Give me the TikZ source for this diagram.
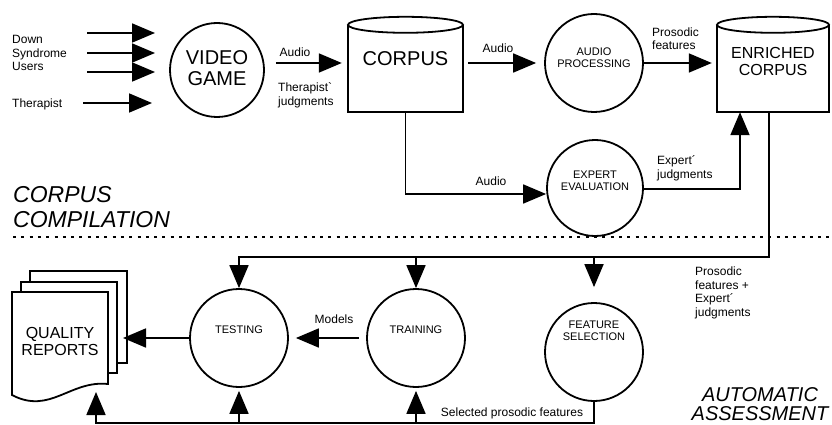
\documentclass[tikz,border=0pt]{standalone}
\usepackage{fontspec}
\setmainfont{Liberation Sans}
\usetikzlibrary{arrows.meta}

\tikzset{
  wire/.style={line width=1.8pt},
  arr/.style={wire, -{Triangle[length=23pt,width=19pt]}},
  proc/.style={circle, draw, line width=1.8pt, minimum size=98pt, inner sep=0pt},
  store/.style={rectangle, inner sep=0pt},
  ctext/.style={font=\fontsize{11}{12}\selectfont, align=center, inner sep=0pt},
  btext/.style={font=\fontsize{16}{17}\selectfont, align=center, inner sep=0pt},
  vtext/.style={font=\fontsize{20}{21}\selectfont, align=center, inner sep=0pt},
  lab/.style={font=\fontsize{12}{13.5}\selectfont, align=left, inner sep=0pt},
  phase/.style={font=\fontsize{23}{25}\selectfont\itshape, inner sep=0pt},
}

\begin{document}
\begin{tikzpicture}[x=1pt, y=-1pt]
  \useasboundingbox (0,0) rectangle (832,425);

  % corpus compilation
  \node[lab, anchor=west] (users) at (12,53) {Down\\Syndrome\\Users};
  \node[lab, anchor=west] (therapist) at (12,104) {Therapist};
  \foreach \y/\n in {33/u1, 53/u2, 72/u3} {
    \coordinate (\n-a) at (87,\y);
    \coordinate (\n-b) at (155,\y);
    \draw[arr] (\n-a) -- (\n-b);
  }
  \coordinate (t-a) at (83,103);
  \coordinate (t-b) at (152,103);
  \draw[arr] (t-a) -- (t-b);

  \node[proc, minimum size=94pt, label={[vtext, yshift=2pt]center:VIDEO\\GAME}] (video) at (217,70) {};
  \node[store, minimum width=115pt, minimum height=87pt, label={[vtext, yshift=9.5pt]center:CORPUS}] (corpus) at (405.5,68.5) {};
  \node[proc, label={[ctext, yshift=5.5pt]center:AUDIO\\PROCESSING}] (audio) at (594,63) {};
  \node[store, minimum width=112pt, minimum height=87pt, label={[btext, yshift=7pt]center:ENRICHED\\CORPUS}] (enriched) at (773,68.5) {};
  \node[proc, minimum size=96pt, label={[ctext, yshift=7pt]center:EXPERT\\EVALUATION}] (expert) at (595,188) {};

  \foreach \s/\r in {corpus/57.5, enriched/56} {
    \draw[wire] (\s.north west) -- (\s.south west) -- (\s.south east) -- (\s.north east);
    \draw[wire] (\s.north) ellipse [x radius=\r pt, y radius=8pt];
  }

  \draw[arr, shorten <=11pt, shorten >=6pt] (video.east |- audio) -- (corpus.west |- audio);
  \draw[arr, shorten <=5pt, shorten >=8pt] (corpus.east |- audio) -- (audio.west);
  \draw[arr, shorten >=5pt] (audio.east) -- (enriched.west |- audio);
  \draw[arr] (corpus.south) |- ([yshift=-6pt]expert.west);
  \draw[arr] ([yshift=-1pt]expert.east) -| ([xshift=-33pt]enriched.south);

  \node[lab] (audio-a) at (295,52) {Audio};
  \node[lab, anchor=west] (ther-j) at (278,95.5) {Therapist\textasciigrave\\judgments};
  \node[lab] (audio-b) at (498,48) {Audio};
  \node[lab, anchor=west] (pros-f) at (652,38.5) {Prosodic\\features};
  \node[lab] (audio-c) at (491,181) {Audio};
  \node[lab, anchor=west] (exp-j) at (657,168.5) {Expert´\\judgments};

  \node[phase, anchor=west, align=left] (comp) at (13,207.5) {CORPUS\\COMPILATION};
  \coordinate (sep-l) at (13,237);
  \coordinate (sep-r) at (832,237);
  \draw[line width=1.5pt, dash pattern=on 3pt off 5.3pt] (sep-l) -- (sep-r);

  % automatic assessment
  \node[phase, font=\fontsize{20}{19.5}\selectfont\itshape, align=center] (assess) at (760,404) {AUTOMATIC\\ASSESSMENT};

  \node[proc, label={[ctext, yshift=8pt]center:TESTING}] (testing) at (239,338) {};
  \node[proc, label={[ctext, yshift=8pt]center:TRAINING}] (training) at (416,338) {};
  \node[proc, label={[ctext, yshift=21pt]center:FEATURE\\SELECTION}] (feature) at (594,352) {};

  \draw[wire, fill=white] (30,271) rectangle (127,363);
  \draw[wire, fill=white] (21,282) rectangle (117,373);
  \draw[wire, fill=white] (12,292) -- (108,292) -- (108,384) .. controls (70,380) and (50,415) .. (12,395) -- cycle;
  \node[btext] (reports) at (60,341.5) {QUALITY\\REPORTS};

  \node[lab] (models) at (334,319) {Models};
  \node[lab] (sel-f) at (512,413) {Selected prosodic features};
  \node[lab, anchor=west] (pros-e) at (695,293) {Prosodic\\features +\\Expert´\\judgments};

  \coordinate (bus) at (0,257);
  \coordinate (bot) at (0,423);
  \coordinate (rep-in) at (123,338);
  \coordinate (rep-up) at (96,392);

  \draw[arr] ([xshift=-4pt]enriched.south) |- (testing |- bus) -- (testing.north);
  \draw[arr] (training |- bus) -- (training.north);
  \draw[arr, shorten >=15pt] (feature |- bus) -- (feature.north);
  \draw[arr, shorten <=7pt, shorten >=7pt] (training.west) -- (testing.east);
  \draw[arr] (testing.west) -- (rep-in);
  \draw[arr] (feature.south) |- (rep-up |- bot) -- (rep-up);
  \draw[arr, shorten >=3pt] (testing |- bot) -- (testing.south);
  \draw[arr, shorten >=3pt] (training |- bot) -- (training.south);
\end{tikzpicture}
\end{document}
